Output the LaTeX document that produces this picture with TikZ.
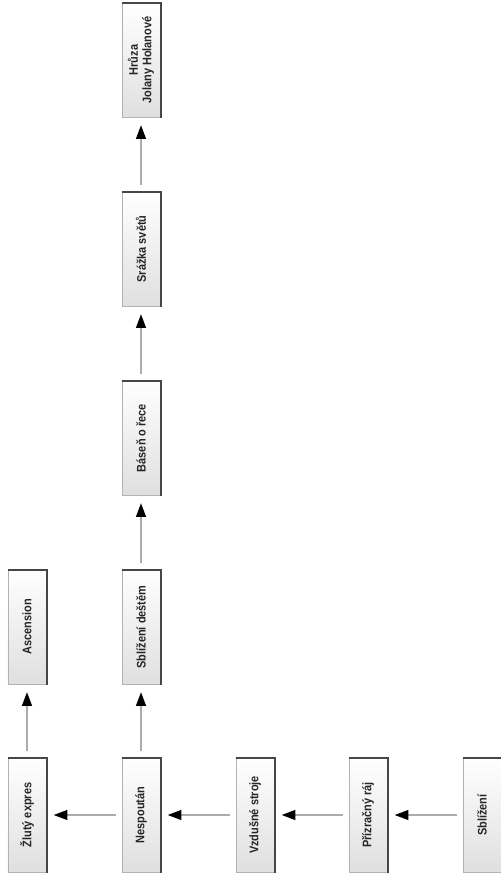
\documentclass[tikz,border=0pt]{standalone}
\usepackage{fontspec}
\setmainfont{Liberation Sans}
\newfontfamily\boxfont[FakeStretch=0.88,BoldFont={Liberation Sans Bold},BoldFeatures={FakeStretch=0.88}]{Liberation Sans}
\usetikzlibrary{arrows.meta}
\tikzset{
  box/.style={rotate=90, minimum width=115bp, minimum height=38bp, inner sep=1bp,
    draw=gray!60, line width=0.8bp, top color=white, bottom color=gray!25,
    font=\boxfont\fontsize{12.5}{13.5}\selectfont\bfseries, text=black!85, align=center},
  conn/.style={draw=gray!65, line width=2.6bp,
    -{Triangle[length=14bp,width=9.5bp,fill=black,color=black]}, shorten <=6bp, shorten >=7bp},
  shadowline/.style={draw=gray!55!black, line width=1.8bp}
}
\newcommand{\boxshadow}[1]{\draw[shadowline] ([xshift=0.6bp]#1.south west) -- ([xshift=0.6bp,yshift=-0.6bp]#1.south east) -- ([yshift=-0.6bp]#1.north east);}
\begin{document}
\begin{tikzpicture}[x=1bp,y=-1bp]
\useasboundingbox (0,0) rectangle (501,881);
\node[box] (zlut) at (27,815) {Žlutý expres};
\node[box] (nesp) at (141,815) {Nespoután};
\node[box] (vzdu) at (255,815) {Vzdušné stroje};
\node[box] (priz) at (368,815) {Přízračný ráj};
\node[box] (sbli) at (482,815) {Sblížení};
\node[box] (asce) at (27,627) {Ascension};
\node[box] (sbld) at (141,627) {Sblížení deštěm};
\node[box] (base) at (141,438) {Báseň o řece};
\node[box] (sraz) at (141,249) {Srážka světů};
\node[box] (hruz) at (141,60) {Hrůza\\Jolany Holanové};
\foreach \n in {zlut,nesp,vzdu,priz,sbli,asce,sbld,base,sraz,hruz} {\boxshadow{\n}}
\draw[conn] (sbli) -- (priz);
\draw[conn] (priz) -- (vzdu);
\draw[conn] (vzdu) -- (nesp);
\draw[conn] (nesp) -- (zlut);
\draw[conn] (zlut) -- (asce);
\draw[conn] (nesp) -- (sbld);
\draw[conn] (sbld) -- (base);
\draw[conn] (base) -- (sraz);
\draw[conn] (sraz) -- (hruz);
\end{tikzpicture}
\end{document}
